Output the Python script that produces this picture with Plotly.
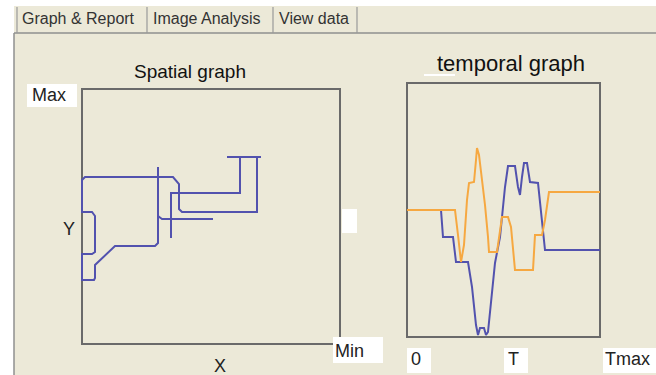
import plotly.graph_objects as go

W, H = 656, 375

# ---- data (spatial trajectory, segments separated by None) ----
spatial_x = [145, 179, None,
             158, 158, 89, 89, None,
             175, 175, 100, 97, 97, 91, 3, 0, 0, 10, 13, 13, 10, 0, 0, 12, 13, 13, 33, 73, 76, 76, None,
             76, 80, 131]
spatial_y = [187, 187, None,
             187, 151, 151, 106, None,
             187, 132, 132, 135, 160, 167, 167, 164, 132, 132, 128, 92, 90, 90, 64, 64, 66, 79, 98, 98, 101, 177, None,
             128, 125, 125]

# ---- data (temporal graph) ----
orange_t = [0, 48, 51, 54, 57, 60, 62, 67, 69, 70, 72, 75, 78, 81, 82, 90, 95, 101, 104, 108, 126, 128, 135, 138, 142, 193]
orange_v = [127, 127, 102, 75, 92, 137, 154, 155, 177, 189, 182, 157, 132, 100, 85, 85, 120, 120, 110, 67, 67, 102, 102, 117, 145, 145]
blue_t = [0, 34, 36, 46, 49, 61, 65, 69, 71, 73, 77, 79, 81, 85, 88, 93, 98, 101, 108, 111, 113, 115, 117, 120, 123, 131, 138, 193]
blue_v = [127, 127, 100, 100, 75, 75, 50, 12, 2, 9, 9, 2, 5, 47, 74, 100, 150, 171, 171, 150, 142, 160, 174, 174, 155, 154, 87, 87]

tab_labels = ["Graph & Report", "Image Analysis", "View data"]

BEIGE = "#ECE9D8"
BLUE = "#5252AE"
ORANGE = "#F6A841"
FONT = "Liberation Sans, Arial, sans-serif"


def px(x):
    return x / W


def py(y):
    return 1 - y / H


PAD = 4
# spatial box (pixels)
SX0, SX1, SY0, SY1 = 82, 340, 89, 344
# temporal box (pixels)
TX0, TX1, TY0, TY1 = 407, 600, 83, 337

fig = go.Figure()
fig.add_trace(go.Scatter(x=spatial_x, y=spatial_y, mode="lines", connectgaps=False,
                         line=dict(color=BLUE, width=2), xaxis="x", yaxis="y",
                         showlegend=False, hoverinfo="skip"))
fig.add_trace(go.Scatter(x=blue_t, y=blue_v, mode="lines",
                         line=dict(color=BLUE, width=2), xaxis="x2", yaxis="y2",
                         showlegend=False, hoverinfo="skip"))
fig.add_trace(go.Scatter(x=orange_t, y=orange_v, mode="lines",
                         line=dict(color=ORANGE, width=2), xaxis="x2", yaxis="y2",
                         showlegend=False, hoverinfo="skip"))

ax_common = dict(showgrid=False, zeroline=False, showticklabels=False, ticks="",
                 showline=False, fixedrange=True)

shapes = []
# panel background
shapes.append(dict(type="rect", xref="paper", yref="paper", x0=px(14), x1=1, y0=0, y1=py(6),
                   fillcolor=BEIGE, line=dict(width=0), layer="below"))
# panel border
shapes.append(dict(type="line", xref="paper", yref="paper", x0=px(14), x1=1, y0=py(33), y1=py(33),
                   line=dict(color="#8f8f8f", width=1.5), layer="below"))
shapes.append(dict(type="line", xref="paper", yref="paper", x0=px(14), x1=px(14), y0=0, y1=py(33),
                   line=dict(color="#8f8f8f", width=1.5), layer="below"))
# tab separators
for sx in [17, 147, 273, 357]:
    shapes.append(dict(type="line", xref="paper", yref="paper", x0=px(sx), x1=px(sx), y0=py(33), y1=py(7),
                       line=dict(color="#9a9a9a", width=1.2), layer="below"))

# plot boxes
for (x0, x1, y0, y1) in [(SX0, SX1, SY0, SY1), (TX0, TX1, TY0, TY1)]:
    shapes.append(dict(type="rect", xref="paper", yref="paper", x0=px(x0), x1=px(x1), y0=py(y1), y1=py(y0),
                       line=dict(color="#6a6a6a", width=2), fillcolor=BEIGE, layer="below"))

# white label boxes
white_boxes = [(27, 77, 84, 107), (333, 383, 337, 363), (407, 431, 348, 373),
               (504, 528, 348, 373), (603, 656, 348, 373), (342, 357, 209, 233)]
for (x0, x1, y0, y1) in white_boxes:
    shapes.append(dict(type="rect", xref="paper", yref="paper", x0=px(x0), x1=px(x1), y0=py(y1), y1=py(y0),
                       fillcolor="white", line=dict(width=0), layer="below"))
# small white mark under title
shapes.append(dict(type="line", xref="paper", yref="paper", x0=px(424), x1=px(455), y0=py(75), y1=py(75),
                   line=dict(color="white", width=2), layer="below"))

annotations = []


def txt(s, x, y, size, color="#111", anchor="left"):
    annotations.append(dict(text=s, x=px(x), y=py(y), xref="paper", yref="paper",
                            showarrow=False, xanchor=anchor, yanchor="middle",
                            font=dict(family=FONT, size=size, color=color)))


# tabs
txt(tab_labels[0], 20, 19, 16, "#333")
txt(tab_labels[1], 151, 19, 16, "#333")
txt(tab_labels[2], 277, 19, 16, "#333")

txt("Spatial graph", 190, 72, 19, "#111", "center")
txt("temporal graph", 511, 63, 22, "#111", "center")
txt("Max", 30, 95, 18, "#222")
txt("Min", 333, 351, 18, "#222")
txt("0", 409, 359, 18, "#222")
txt("T", 506, 359, 18, "#222")
txt("Tmax", 603, 359, 18, "#222")
txt("X", 220, 366, 18, "#222", "center")
txt("Y", 69, 229, 18, "#222", "center")

fig.update_layout(
    width=W, height=H, margin=dict(l=0, r=0, t=0, b=0),
    paper_bgcolor="white", plot_bgcolor="rgba(0,0,0,0)",
    xaxis=dict(domain=[px(SX0 - PAD), px(SX1 + PAD)], range=[-PAD, SX1 - SX0 + PAD], anchor="y", **ax_common),
    yaxis=dict(domain=[py(SY1 + PAD), py(SY0 - PAD)], range=[-PAD, SY1 - SY0 + PAD], anchor="x", **ax_common),
    xaxis2=dict(domain=[px(TX0 - PAD), px(TX1 + PAD)], range=[-PAD, TX1 - TX0 + PAD], anchor="y2", **ax_common),
    yaxis2=dict(domain=[py(TY1 + PAD), py(TY0 - PAD)], range=[-PAD, TY1 - TY0 + PAD], anchor="x2", **ax_common),
    shapes=shapes, annotations=annotations, showlegend=False,
)

fig.write_html("out.html", config={"displayModeBar": False},
               post_script="document.body.style.margin='0';document.body.style.padding='0';")
